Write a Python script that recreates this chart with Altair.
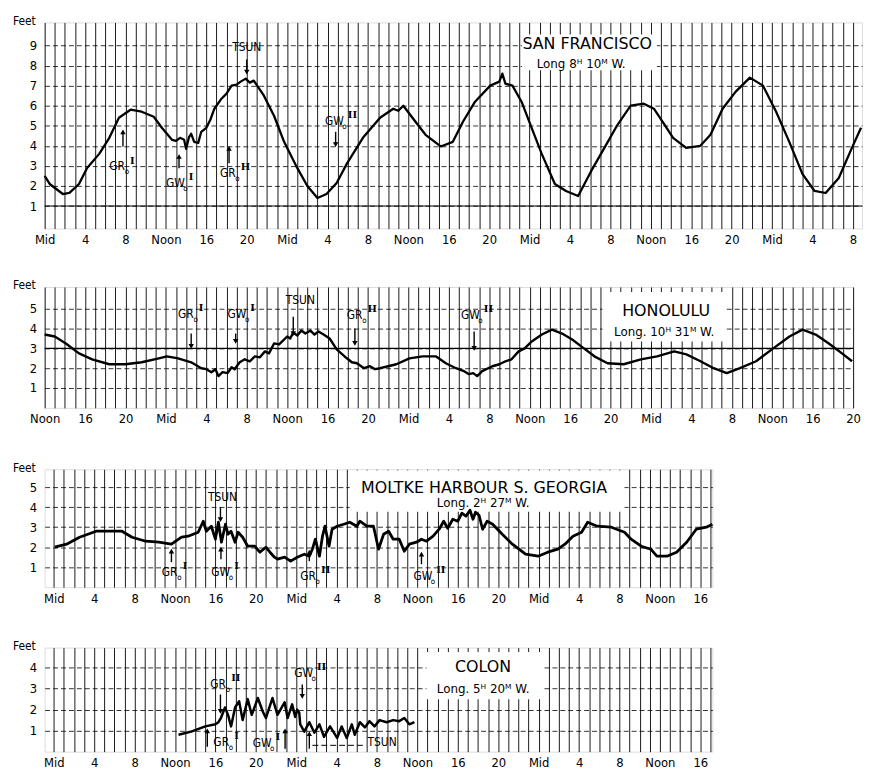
import altair as alt
import pandas as pd

FONT = "DejaVu Sans Condensed, DejaVu Sans, sans-serif"
WIDE = "DejaVu Sans, sans-serif"
SERIF = "DejaVu Serif, serif"
HOUR_NAMES = ["Mid", "4", "8", "Noon", "16", "20"]

# ---------------- San Francisco ----------------
SF_H = [0, 0.5, 1.8, 2.45, 3.4, 4.2, 5.4, 6.4, 7.35, 8.5, 9.6, 10.8, 11.6, 12.6, 13.0, 13.4, 13.8, 14.0,
        14.3, 14.5, 14.8, 15.2, 15.5, 16.0, 16.4, 16.8, 17.5, 18.0, 18.5, 19.0, 19.4, 19.9, 20.3, 20.7,
        21.7, 22.7, 23.7, 25.0, 26.0, 27.0, 27.9, 28.9, 29.9, 31.5, 33.2, 34.5, 35.0, 35.5, 36.4, 37.7,
        39.2, 40.4, 41.4, 42.6, 44.1, 45.0, 45.3, 45.6, 46.3, 47.2, 48.2, 49.2, 50.5, 51.6, 52.8, 54.1,
        55.4, 56.7, 58.0, 59.3, 60.3, 61.3, 62.2, 63.5, 64.9, 65.9, 67.1, 68.4, 69.8, 71.1, 72.4, 73.7,
        75.0, 76.2, 77.3, 78.6, 79.9, 80.8]
SF_FT = [2.5, 2.1, 1.6, 1.66, 2.1, 2.9, 3.6, 4.4, 5.4, 5.8, 5.7, 5.45, 4.9, 4.3, 4.25, 4.4, 4.3, 3.85,
         4.45, 4.6, 4.2, 4.15, 4.7, 4.9, 5.3, 5.85, 6.35, 6.6, 7.0, 7.05, 7.2, 7.35, 7.15, 7.25,
         6.5, 5.5, 4.2, 2.9, 2.0, 1.4, 1.6, 2.15, 3.1, 4.4, 5.4, 5.85, 5.75, 6.0, 5.4, 4.55,
         3.97, 4.2, 5.2, 6.2, 7.0, 7.2, 7.6, 7.1, 7.0, 6.2, 4.9, 3.6, 2.1, 1.75, 1.5, 2.75,
         3.9, 5.05, 6.0, 6.1, 5.85, 5.1, 4.4, 3.9, 4.0, 4.55, 5.85, 6.7, 7.4, 7.0, 5.7, 4.2,
         2.6, 1.75, 1.65, 2.4, 3.9, 4.9]

# ---------------- Honolulu ----------------
HO_H = [12, 13, 14.1, 15.4, 16.7, 18.4, 20, 21.6, 23.3, 24.1, 25.2, 26.5, 27.5, 28.0, 28.5, 28.9, 29.2,
        29.6, 30.1, 30.5, 30.8, 31.3, 31.8, 32.3, 32.8, 33.3, 33.8, 34.2, 34.7, 35.2, 36.0, 36.3, 36.6,
        37.0, 37.4, 37.8, 38.3, 38.7, 39.1, 39.6, 40.2, 40.9, 41.9, 42.4, 42.9, 43.6, 44.2, 44.7, 45.2,
        46.0, 46.8, 48.1, 49.4, 50.7, 51.7, 52.7, 53.5, 54.0, 54.4, 54.8, 55.3, 56.3, 57.0, 57.6, 58.2,
        58.9, 59.5, 60.2, 61.2, 62.2, 63.2, 64.2, 65.1, 66.4, 67.7, 69.3, 71.0, 72.6, 74.3, 75.5, 76.9,
        78.2, 79.5, 80.8, 82.4, 84.1, 85.7, 87.0, 88.3, 89.6, 90.9, 91.9]
HO_FT = [3.7, 3.6, 3.25, 2.75, 2.45, 2.2, 2.2, 2.3, 2.5, 2.6, 2.5, 2.3, 2.0, 1.95, 1.8, 1.95, 1.6,
         1.8, 1.75, 2.05, 1.95, 2.3, 2.45, 2.35, 2.6, 2.55, 2.85, 2.75, 3.25, 3.2, 3.6, 3.5, 3.8,
         3.65, 3.9, 3.75, 3.9, 3.7, 3.85, 3.7, 3.5, 2.95, 2.5, 2.3, 2.25, 2.0, 2.1, 1.95, 2.0,
         2.1, 2.2, 2.5, 2.6, 2.6, 2.25, 2.0, 1.85, 1.7, 1.75, 1.6, 1.85, 2.1, 2.2, 2.35, 2.45,
         2.85, 3.0, 3.35, 3.7, 3.95, 3.75, 3.45, 3.1, 2.6, 2.25, 2.2, 2.45, 2.6, 2.85, 2.7, 2.35,
         2.0, 1.75, 2.0, 2.35, 3.0, 3.6, 3.95, 3.7, 3.25, 2.75, 2.35]

# ---------------- Moltke Harbour ----------------
MO_H = [0.1, 1.27, 2.55, 4.2, 5.5, 6.75, 7.75, 9.1, 10.4, 11.65, 12.65, 13.3, 14.3, 14.8, 15.1, 15.6,
        16.0, 16.3, 16.6, 17.0, 17.25, 17.55, 17.95, 18.25, 18.7, 19.2, 19.9, 20.4, 21.0, 21.4, 21.85,
        22.15, 22.85, 23.45, 24.1, 24.8, 25.3, 25.6, 25.9, 26.3, 26.6, 26.85, 27.25, 27.55, 28.05, 28.7,
        29.3, 30.0, 30.3, 31.0, 31.65, 32.15, 32.65, 33.15, 33.6, 34.2, 34.7, 35.2, 35.9, 36.4, 36.9,
        37.55, 38.15, 38.6, 39.0, 39.5, 40.0, 40.4, 40.8, 41.2, 41.5, 41.75, 42.1, 42.45, 42.9, 43.45,
        44.4, 45.4, 46.7, 47.95, 48.9, 49.9, 50.6, 51.4, 52.25, 52.85, 53.8, 55.2, 56.5, 57.15, 58.15,
        59.1, 59.7, 60.7, 61.65, 62.65, 63.6, 64.6, 65.2]
MO_FT = [2.0, 2.15, 2.5, 2.8, 2.8, 2.8, 2.5, 2.3, 2.25, 2.15, 2.5, 2.55, 2.75, 3.3, 2.8, 3.05,
         2.4, 3.25, 2.25, 3.15, 2.65, 2.8, 2.25, 2.75, 2.5, 2.05, 2.05, 1.75, 2.0, 1.75, 1.5,
         1.4, 1.5, 1.3, 1.5, 1.65, 1.55, 1.9, 2.4, 1.55, 2.55, 3.05, 2.05, 2.9, 3.05, 3.15,
         3.25, 3.05, 3.3, 3.05, 3.05, 1.9, 2.65, 2.8, 2.4, 2.4, 1.8, 2.15, 2.25, 2.4, 2.3,
         2.55, 2.9, 3.3, 2.95, 3.4, 3.3, 3.7, 3.55, 3.85, 3.4, 3.75, 3.6, 2.9, 3.3, 3.15,
         2.65, 2.15, 1.65, 1.55, 1.75, 1.9, 2.15, 2.55, 2.75, 3.25, 3.05, 3.0, 2.75, 2.4, 2.05,
         1.9, 1.55, 1.55, 1.75, 2.25, 2.9, 3.0, 3.15]

# ---------------- Colon ----------------
CO_H = [12.35, 13.6, 15.0, 16.0, 16.3, 16.55, 16.95, 17.25, 17.55, 17.95, 18.35, 18.7, 19.2, 19.6,
        20.2, 20.7, 21.0, 21.65, 22.15, 22.85, 23.15, 23.6, 23.9, 24.1, 24.3, 24.4, 24.8, 25.3, 25.8,
        26.3, 26.75, 27.35, 28.05, 28.5, 29.0, 29.5, 29.8, 30.3, 30.8, 31.25, 31.75, 32.25, 32.95,
        33.6, 34.2, 34.7, 35.2, 35.7]
CO_FT = [0.8, 0.95, 1.2, 1.3, 1.4, 1.6, 2.1, 1.75, 1.2, 2.1, 2.4, 1.5, 2.5, 1.75,
         2.55, 1.9, 1.6, 2.55, 1.75, 2.35, 1.6, 2.25, 1.65, 2.0, 1.85, 1.3, 0.95, 1.4, 0.9,
         1.3, 0.7, 1.2, 0.65, 1.2, 0.65, 1.3, 0.8, 1.4, 1.15, 1.45, 1.2, 1.5, 1.4,
         1.5, 1.45, 1.6, 1.3, 1.4]

# ---------------- station boxes / names ----------------
SF_NAME = ["SAN FRANCISCO", "Long 8ᴴ 10ᴹ W."]
HO_NAME = ["HONOLULU", "Long. 10ᴴ 31ᴹ W."]
MO_NAME = ["MOLTKE HARBOUR S. GEORGIA", "Long. 2ᴴ 27ᴹ W."]
CO_NAME = ["COLON", "Long. 5ᴴ 20ᴹ W."]

# solid (heavier) horizontal reference lines: [from hour, to hour, feet]
SF_SOLID = [0, 80.9, 1]
HO_SOLID = [12, 92, 3]

# annotations: kind, superscript, text hour, text feet, arrow hour, arrow tail feet, arrow tip feet
SF_ANN = dict(kind=["TSUN", "GR", "GW", "GR", "GW"], sup=["", "I", "I", "II", "II"],
              th=[20.0, 6.4, 12.0, 17.35, 27.75], tf=[8.9, 2.97, 2.14, 2.63, 5.24],
              ah=[20.0, 7.75, 13.3, 18.25, 28.8], tl=[8.3, 3.97, 2.88, 3.13, 4.7],
              tp=[7.67, 4.7, 3.47, 3.87, 4.06])
HO_ANN = dict(kind=["GR", "GW", "TSUN", "GR", "GW"], sup=["I", "I", "", "II", "II"],
              th=[25.2, 30.1, 37.3, 41.9, 53.2], tf=[4.75, 4.75, 5.45, 4.7, 4.7],
              ah=[26.5, 30.9, 36.6, 42.7, 54.5], tl=[3.75, 3.75, 4.6, 4.0, 3.85],
              tp=[3.1, 3.35, 3.75, 3.25, 3.0])
MO_ANN = dict(kind=["TSUN", "GR", "GW", "GR", "GW"], sup=["", "I", "I", "II", "II"],
              th=[16.7, 10.7, 15.6, 24.4, 35.6], tf=[4.5, 0.76, 0.76, 0.56, 0.56],
              ah=[16.5, 11.65, 16.55, 25.3, 36.4], tl=[4.0, 1.25, 1.4, 1.3, 1.15],
              tp=[3.38, 1.8, 1.9, 1.75, 1.65])
CO_ANN = dict(kind=["GR", "GR", "GW", "GW", "TSUN"], sup=["II", "I", "I", "II", ""],
              th=[15.5, 15.8, 19.7, 23.8, 32.5], tf=[3.2, 0.47, 0.42, 3.75, 0.47],
              ah=[16.5, 15.2, 22.9, 24.6, 25.3], tl=[2.72, 0.23, 0.14, 3.2, 0.14],
              tp=[1.92, 0.99, 0.99, 2.63, 0.85])
CO_LEADER_H = [25.6, 30.6]
CO_LEADER_FT = 0.3

MAIN_W = {"GR": 15, "GW": 17}


def hour_axis(values):
    names = "[" + ",".join("'%s'" % n for n in HOUR_NAMES) + "]"
    return alt.Axis(values=values, title=None, grid=True, gridColor="black", gridWidth=0.9,
                    gridOpacity=1, ticks=False, domain=False,
                    labelExpr="datum.value % 4 == 0 ? " + names + "[(datum.value % 24) / 4] : ''",
                    labelFont=FONT, labelFontSize=13, labelColor="black", labelPadding=5,
                    labelFlush=False, labelOverlap=False, labelBound=False)


def feet_axis(values):
    return alt.Axis(values=values, title="Feet", titleAngle=0, titleX=-21, titleY=2,
                    titleAlign="center", titleBaseline="alphabetic", titleFont=FONT,
                    titleFontSize=12, titleFontWeight="normal", titleColor="black",
                    grid=True, gridColor="black", gridDash=[5, 3], gridWidth=0.8, gridOpacity=1,
                    ticks=False, domain=False, labelFont=FONT, labelFontSize=13,
                    labelColor="black", labelPadding=8, format="d")


def panel(hours, feet, xdom, ydom, width, height, yvals, box, name, name_pos, ann, lw,
          leader=None, solid=None):
    xvals = [v for v in range(int(xdom[0]) - 1, int(xdom[1]) + 2) if xdom[0] <= v <= xdom[1]]
    xs = alt.Scale(domain=xdom, nice=False, zero=False)
    ys = alt.Scale(domain=ydom, nice=False, zero=False)
    xa = hour_axis(xvals)
    ya = feet_axis(yvals)

    def X(f):
        return alt.X(f, type="quantitative", scale=xs, axis=xa)

    def Y(f):
        return alt.Y(f, type="quantitative", scale=ys, axis=ya)

    curve = pd.DataFrame({"h": hours, "ft": feet})
    line = alt.Chart(curve).mark_line(color="black", strokeWidth=lw, strokeJoin="round").encode(
        x=X("h"), y=Y("ft"), order="h:Q")

    bx = pd.DataFrame({"x": [box[0]], "x2": [box[1]], "y": [box[2]], "y2": [box[3]]})
    rect = alt.Chart(bx).mark_rect(fill="white").encode(
        x=X("x"), x2="x2", y=Y("y"), y2="y2")

    nm = pd.DataFrame({"h": [name_pos[0], name_pos[2]], "ft": [name_pos[1], name_pos[3]],
                       "t": name, "s": ["a", "b"]})
    t1 = alt.Chart(nm[nm["s"] == "a"]).mark_text(font=WIDE, fontSize=16, color="black").encode(
        x=X("h"), y=Y("ft"), text="t:N")
    t2 = alt.Chart(nm[nm["s"] == "b"]).mark_text(font=WIDE, fontSize=12, color="black").encode(
        x=X("h"), y=Y("ft"), text="t:N")

    a = pd.DataFrame(ann)
    a["dir"] = ["up" if p > q else "down" for p, q in zip(a["tp"], a["tl"])]
    shaft = alt.Chart(a).mark_rule(color="black", strokeWidth=1.4).encode(
        x=X("ah"), y=Y("tl"), y2="tp")
    heads = alt.Chart(a).mark_point(filled=True, color="black", size=30, opacity=1).encode(
        x=X("ah"), y=Y("tp"),
        shape=alt.Shape("dir:N", scale=alt.Scale(domain=["up", "down"],
                                                 range=["triangle-up", "triangle-down"]),
                        legend=None))
    layers = [rect]
    if solid is not None:
        sd = pd.DataFrame({"x": [solid[0]], "x2": [solid[1]], "y": [solid[2]]})
        layers.append(alt.Chart(sd).mark_rule(color="black", strokeWidth=1.1).encode(
            x=X("x"), x2="x2", y=Y("y")))
    layers += [line, t1, t2, shaft, heads]

    ts = a[a["kind"] == "TSUN"]
    layers.append(alt.Chart(ts).mark_text(font=FONT, fontSize=12, color="black").encode(
        x=X("th"), y=Y("tf"), text="kind:N"))
    for k, w in MAIN_W.items():
        sub = a[a["kind"] == k]
        if len(sub) == 0:
            continue
        layers.append(alt.Chart(sub).mark_text(font=FONT, fontSize=12, color="black",
                                               align="left").encode(
            x=X("th"), y=Y("tf"), text="kind:N"))
        layers.append(alt.Chart(sub).mark_text(font=FONT, fontSize=8, color="black",
                                               align="left", dx=w + 0.5, dy=6,
                                               text="o").encode(x=X("th"), y=Y("tf")))
        layers.append(alt.Chart(sub).mark_text(font=SERIF, fontSize=10, fontWeight="bold",
                                               color="black", align="left", dx=w + 6,
                                               dy=-6).encode(
            x=X("th"), y=Y("tf"), text="sup:N"))
    if leader is not None:
        ld = pd.DataFrame({"x": [leader[0]], "x2": [leader[1]], "y": [leader[2]]})
        layers.append(alt.Chart(ld).mark_rule(color="black", strokeWidth=1,
                                             strokeDash=[6, 3]).encode(
            x=X("x"), x2="x2", y=Y("y")))
    return alt.layer(*layers).properties(width=width, height=height)


p1 = panel(SF_H, SF_FT, [0, 80.9], [-0.12, 10.15], 825, 208, list(range(1, 10)),
           [47.25, 60.6, 7.77, 9.55], SF_NAME, [53.7, 9.05, 53.1, 8.06], SF_ANN, 2.3,
           solid=SF_SOLID)
p2 = panel(HO_H, HO_FT, [12, 92], [0, 6.1], 816, 122, list(range(1, 6)),
           [67.2, 79.35, 3.35, 5.85], HO_NAME, [73.5, 4.9, 73.3, 3.85], HO_ANN, 2.4,
           solid=HO_SOLID)
p3 = panel(MO_H, MO_FT, [-0.9, 65.2], [0, 5.9], 674, 119, list(range(1, 6)),
           [29.3, 56.5, 3.77, 5.84], MO_NAME, [42.6, 4.95, 42.5, 4.2], MO_ANN, 2.8)
p4 = panel(CO_H, CO_FT, [-0.9, 65.2], [0, 4.95], 674, 105, list(range(1, 5)),
           [36.9, 48.4, 2.49, 4.74], CO_NAME, [42.5, 4.04, 42.5, 2.96], CO_ANN, 2.5,
           leader=[CO_LEADER_H[0], CO_LEADER_H[1], CO_LEADER_FT])

inner = alt.vconcat(p3, p4, spacing=61, bounds="flush")
mid = alt.vconcat(p2, inner, spacing=62, bounds="flush")
chart = alt.vconcat(p1, mid, spacing=59, bounds="flush").properties(
    padding={"left": 3, "top": 2, "right": 0, "bottom": 0}
).configure_view(stroke="black", strokeWidth=1.4).configure(background="white")

chart.save("out.html", embed_options={"renderer": "svg", "actions": False})
